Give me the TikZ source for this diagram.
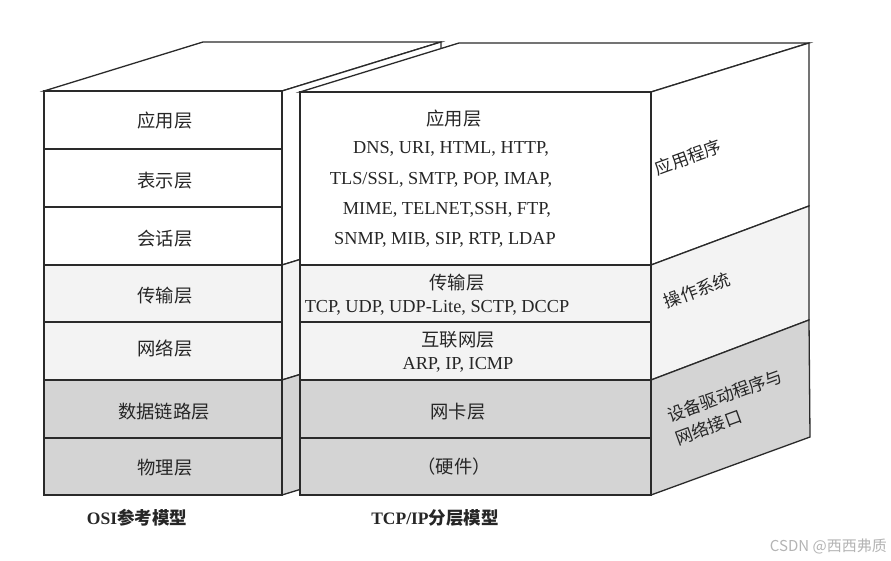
\documentclass[tikz,border=0pt]{standalone}
\usepackage{fontspec}
\setmainfont{Liberation Serif}
\newfontfamily\cjk{Noto Sans CJK SC}
\newfontfamily\wmfont{Noto Sans CJK SC}
\definecolor{linec}{HTML}{2A2A2A}
\definecolor{midfill}{HTML}{F3F3F3}
\definecolor{lowfill}{HTML}{D4D4D4}
\definecolor{wmgray}{HTML}{B4B4B4}
\begin{document}
\begin{tikzpicture}[x=1pt,y=-1pt,
  edge/.style={draw=linec, line width=1.3pt, line join=miter},
  cn/.style={font=\cjk\fontsize{18.3}{20}\selectfont, inner sep=0pt, text=black!85},
  en/.style={font=\fontsize{18.3}{20}\selectfont, inner sep=0pt, text=black!85},
  side/.style={font=\cjk\fontsize{17.3}{24}\selectfont, inner sep=0pt, rotate=20, text=black!85, align=left},
  captext/.style={font=\bfseries\fontsize{17.5}{20}\selectfont, inner sep=0pt, text=black!85},
  wm/.style={font=\wmfont\fontsize{15}{18}\selectfont, inner sep=0pt, text=wmgray}]
\useasboundingbox (0,0) rectangle (891,561);
\fill[white] (0,0) rectangle (891,561);

% ---------- OSI box ----------
\filldraw[edge, fill=white] (44,91) -- (203,42) -- (441,42) -- (282,91) -- cycle;
\filldraw[edge, fill=white] (282,91) -- (441,42) -- (441,216) -- (282,265) -- cycle;
\filldraw[edge, fill=midfill] (282,265) -- (441,216) -- (441,331) -- (282,380) -- cycle;
\filldraw[edge, fill=lowfill] (282,380) -- (441,331) -- (441,446) -- (282,495) -- cycle;
\filldraw[edge, fill=white] (44,91) rectangle (282,149);
\filldraw[edge, fill=white] (44,149) rectangle (282,207);
\filldraw[edge, fill=white] (44,207) rectangle (282,265);
\filldraw[edge, fill=midfill] (44,265) rectangle (282,322);
\filldraw[edge, fill=midfill] (44,322) rectangle (282,380);
\filldraw[edge, fill=lowfill] (44,380) rectangle (282,438);
\filldraw[edge, fill=lowfill] (44,438) rectangle (282,495);

% ---------- TCP/IP box ----------
\filldraw[edge, fill=white] (300,92) -- (459,43) -- (809,43) -- (651,92) -- cycle;
\filldraw[edge, fill=white] (651,92) -- (809,43) -- (809,206) -- (651,265) -- cycle;
\filldraw[edge, fill=midfill] (651,265) -- (809,206) -- (809,320) -- (651,380) -- cycle;
\filldraw[edge, fill=lowfill] (651,380) -- (809,320) -- (810,437) -- (651,495) -- cycle;
\filldraw[edge, fill=white] (300,92) rectangle (651,265);
\filldraw[edge, fill=midfill] (300,265) rectangle (651,322);
\filldraw[edge, fill=midfill] (300,322) rectangle (651,380);
\filldraw[edge, fill=lowfill] (300,380) rectangle (651,438);
\filldraw[edge, fill=lowfill] (300,438) rectangle (651,495);

% ---------- OSI labels ----------
\node[cn] (o1) at (165,121) {应用层};
\node[cn] (o2) at (165,181) {表示层};
\node[cn] (o3) at (165,239) {会话层};
\node[cn] (o4) at (165,296) {传输层};
\node[cn] (o5) at (165,349) {网络层};
\node[cn] (o6) at (164,412) {数据链路层};
\node[cn] (o7) at (165,468) {物理层};

% ---------- TCP/IP labels ----------
\node[cn] (t1) at (454,119) {应用层};
\node[en] (a1) at (451,149) {DNS, URI, HTML, HTTP,};
\node[en] (a2) at (441,180) {TLS/SSL, SMTP, POP, IMAP,};
\node[en] (a3) at (447,210) {MIME, TELNET,SSH, FTP,};
\node[en] (a4) at (445,240) {SNMP, MIB, SIP, RTP, LDAP};
\node[cn] (t2) at (457,283) {传输层};
\node[en] (a5) at (437,308) {TCP, UDP, UDP-Lite, SCTP, DCCP};
\node[cn] (t3) at (458,340) {互联网层};
\node[en] (a6) at (458,365) {ARP, IP, ICMP};
\node[cn] (t4) at (458,412) {网卡层};
\node[cn] (t5) at (454,467) {（硬件）};

% ---------- side labels ----------
\node[side] (s1) at (688,157) {应用程序};
\node[side] (s2) at (697,290) {操作系统};
\node[side] (s3) at (729,407) {设备驱动程序与\\网络接口};

% ---------- captions ----------
\node[captext] (c1) at (137,518) {OSI{\cjk 参考模型}};
\node[captext] (c2) at (435,518) {TCP/IP{\cjk 分层模型}};
\node[wm, anchor=east] (w) at (887,546) {CSDN @西西弗质};
\end{tikzpicture}
\end{document}
